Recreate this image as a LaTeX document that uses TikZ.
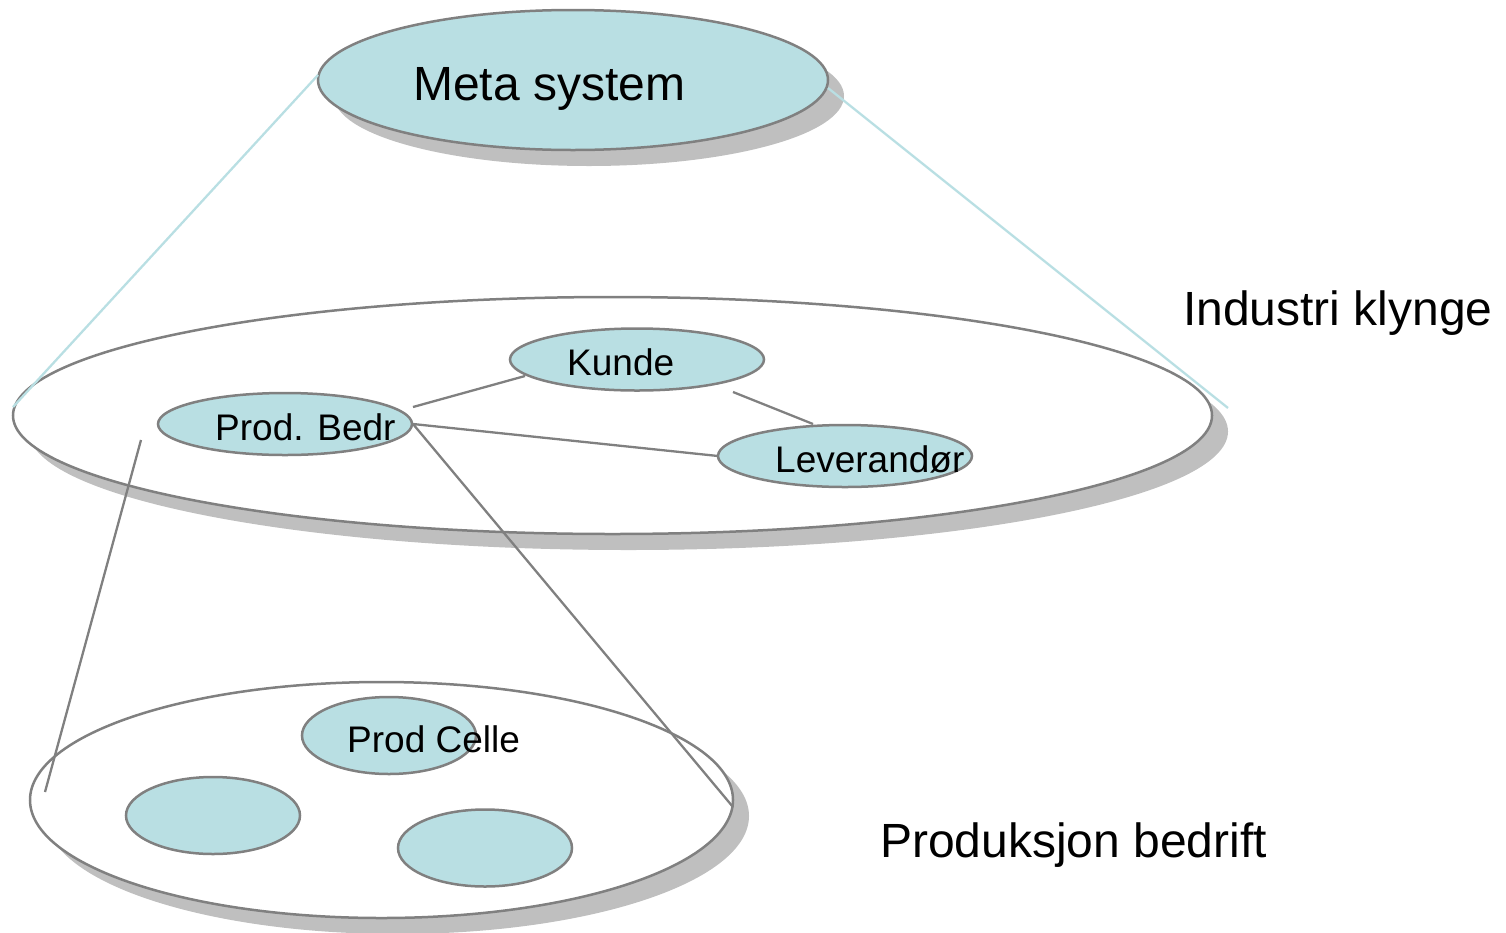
\documentclass[tikz,border=0pt]{standalone}
\usepackage{fontspec}
\setmainfont{Liberation Sans}
\usetikzlibrary{shapes.geometric}
\definecolor{cellfill}{RGB}{185,223,227}
\definecolor{rim}{RGB}{128,128,128}
\definecolor{shade}{RGB}{191,191,191}
\definecolor{linkblue}{RGB}{185,223,227}
\tikzset{
  oval/.style={ellipse, draw=rim, line width=2.5pt, inner sep=0pt, minimum width=#1},
  cellbox/.style={oval=174pt, minimum height=77pt, fill=cellfill},
  unitbox/.style={oval=254pt, minimum height=62pt, fill=cellfill},
  dropshade/.style={ellipse, fill=shade, draw=none, inner sep=0pt},
  link/.style={draw=rim, line width=2.3pt},
  zoomlink/.style={draw=linkblue, line width=2.3pt},
  bigtext/.style={font=\fontsize{48}{58}\selectfont, anchor=base west, inner sep=0pt},
  smalltext/.style={font=\fontsize{37}{44}\selectfont, anchor=base west, inner sep=0pt},
}
\begin{document}
\begin{tikzpicture}[x=1pt,y=-1pt]
  \useasboundingbox (0,0) rectangle (1506,932);

  % shadows of the three levels
  \node[dropshade, minimum width=510pt, minimum height=140pt] (metash) at (589,96) {};
  \node[dropshade, minimum width=1199pt, minimum height=237pt] (clustersh) at (628.5,431.5) {};
  \node[dropshade, minimum width=703pt, minimum height=236pt] (firmsh) at (397.5,816) {};

  % the three levels
  \node[oval=510pt, minimum height=140pt, fill=cellfill] (meta) at (573,80) {};
  \node[oval=1199pt, minimum height=237pt, fill=white] (cluster) at (612.5,415.5) {};
  \node[oval=703pt, minimum height=236pt, fill=white] (firm) at (381.5,800) {};

  % actors in the cluster
  \node[unitbox] (kunde) at (637,359.5) {};
  \node[unitbox] (prod) at (285,424) {};
  \node[unitbox] (lev) at (845,456) {};

  % cells in the firm
  \node[cellbox] (celle) at (389,735.5) {};
  \node[cellbox] (cellA) at (213,815.5) {};
  \node[cellbox] (cellB) at (485,848) {};

  % free ends of connectors
  \coordinate (metaR) at (828,88);
  \coordinate (clusterR) at (1228,408);
  \coordinate (clusterL) at (13,407);
  \coordinate (metaL) at (318,75);
  \coordinate (prodNE) at (413,407);
  \coordinate (kundeSW) at (525,376);
  \coordinate (kundeSE) at (733,392);
  \coordinate (levN) at (813,424);
  \coordinate (levW) at (718,456);
  \coordinate (prodE) at (413,424);
  \coordinate (prodSW) at (141,440);
  \coordinate (firmW) at (45,792);
  \coordinate (firmE) at (733,807);

  % zoom lines from the meta level
  \draw[zoomlink] (metaL) -- (clusterL);
  \draw[zoomlink] (metaR) -- (clusterR);

  % relations in the cluster
  \draw[link] (prodNE) -- (kundeSW);
  \draw[link] (kundeSE) -- (levN);
  \draw[link] (prodE) -- (levW);

  % zoom lines to the firm
  \draw[link] (prodSW) -- (firmW);
  \draw[link] (prodE) -- (firmE);

  % labels
  \node[bigtext] (tmeta) at (413,100) {Meta system};
  \node[bigtext] (tcluster) at (1183,325) {Industri klynge};
  \node[bigtext] (tfirm) at (880,857) {Produksjon bedrift};
  \node[smalltext] (tkunde) at (567,375) {Kunde};
  \node[smalltext] (tprod) at (215,440) {Prod. Bedr};
  \node[smalltext] (tlev) at (775,472) {Leverandør};
  \node[smalltext] (tcelle) at (347,752) {Prod Celle};
\end{tikzpicture}
\end{document}
